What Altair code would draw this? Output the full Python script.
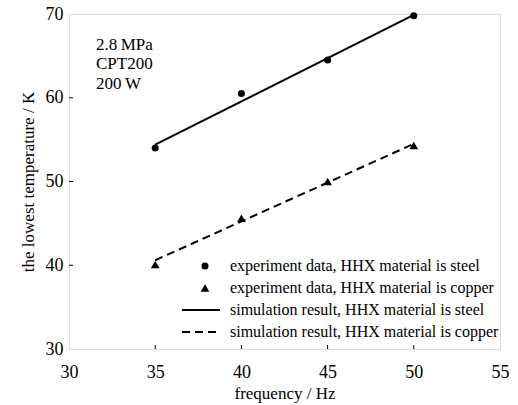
import altair as alt
import pandas as pd

# data
freq = [35, 40, 45, 50]
steel_exp = [54.0, 60.5, 64.5, 69.8]
copper_exp = [40.1, 45.6, 50.0, 54.3]
freq_sim = [35, 50]
steel_sim = [54.4, 69.9]
copper_sim = [40.6, 54.5]
x_ticks = [35, 40, 45, 50]
y_ticks = [40, 50, 60]
legend_labels = [
    "experiment data, HHX material is steel",
    "experiment data, HHX material is copper",
    "simulation result, HHX material is steel",
    "simulation result, HHX material is copper",
]
notes = ["2.8\u2009MPa", "CPT200", "200\u2009W"]

FONT = "Liberation Serif"
W, H = 431, 335

xs = alt.Scale(domain=[30, 55], nice=False, zero=False)
ys = alt.Scale(domain=[30, 70], nice=False, zero=False)

exp_df = pd.DataFrame({"f": freq, "steel": steel_exp, "copper": copper_exp})
sim_df = pd.DataFrame({"f": freq_sim, "steel": steel_sim, "copper": copper_sim})

xax = alt.Axis(values=[30, 35, 40, 45, 50, 55], tickSize=0, labelPadding=14,
               labelFontSize=18, labelFont=FONT, title="frequency / Hz",
               titleFont=FONT, titleFontSize=17, titleFontWeight="normal",
               titlePadding=4, grid=False, domain=False, labelColor="black",
               titleColor="black", labelFlush=False)
yax = alt.Axis(values=[30, 40, 50, 60, 70], tickSize=0, labelPadding=6,
               labelFontSize=18, labelFont=FONT, title="the lowest temperature / K",
               titleFont=FONT, titleFontSize=17, titleFontWeight="normal",
               titlePadding=8, grid=False, domain=False, labelColor="black",
               titleColor="black", labelFlush=False)

base = alt.Chart(exp_df)

steel_line = alt.Chart(sim_df).mark_line(color="black", strokeWidth=2).encode(
    x=alt.X("f:Q", scale=xs, axis=xax),
    y=alt.Y("steel:Q", scale=ys, axis=yax),
)
copper_line = alt.Chart(sim_df).mark_line(color="black", strokeWidth=2, strokeDash=[8, 5]).encode(
    x=alt.X("f:Q", scale=xs),
    y=alt.Y("copper:Q", scale=ys),
)
steel_pts = base.mark_point(shape="circle", filled=True, color="black", size=50, opacity=1).encode(
    x=alt.X("f:Q", scale=xs), y=alt.Y("steel:Q", scale=ys)
)
copper_pts = base.mark_point(shape="triangle-up", filled=True, color="black", size=75, opacity=1).encode(
    x=alt.X("f:Q", scale=xs), y=alt.Y("copper:Q", scale=ys)
)

# inward ticks
xt_df = pd.DataFrame({"v": x_ticks})
xticks = alt.Chart(xt_df).mark_rule(color="black", strokeWidth=1).encode(
    x=alt.X("v:Q", scale=xs), y=alt.value(H - 4), y2=alt.value(H)
)
yt_df = pd.DataFrame({"v": y_ticks})
yticks = alt.Chart(yt_df).mark_rule(color="black", strokeWidth=1).encode(
    y=alt.Y("v:Q", scale=ys), x=alt.value(0), x2=alt.value(4)
)

one = pd.DataFrame({"a": [0]})
layers = [steel_line, copper_line, steel_pts, copper_pts, xticks, yticks]

# annotation
for t, yy in zip(notes, [31, 50, 70]):
    layers.append(alt.Chart(one).mark_text(font=FONT, fontSize=17, align="left", baseline="middle",
                                           color="black", text=t).encode(x=alt.value(27), y=alt.value(yy)))

# legend
lx0 = 113
rows = [252, 274, 296, 318]
for t, yy in zip(legend_labels, rows):
    layers.append(alt.Chart(one).mark_text(font=FONT, fontSize=16, align="left", baseline="middle",
                                           color="black", text=t).encode(x=alt.value(lx0 + 48), y=alt.value(yy)))
layers.append(alt.Chart(one).mark_point(shape="circle", filled=True, color="black", size=50, opacity=1).encode(
    x=alt.value(lx0 + 23), y=alt.value(rows[0])))
layers.append(alt.Chart(one).mark_point(shape="triangle-up", filled=True, color="black", size=75, opacity=1).encode(
    x=alt.value(lx0 + 23), y=alt.value(rows[1])))
layers.append(alt.Chart(one).mark_rule(color="black", strokeWidth=2).encode(
    x=alt.value(lx0), x2=alt.value(lx0 + 38), y=alt.value(rows[2])))
layers.append(alt.Chart(one).mark_rule(color="black", strokeWidth=2, strokeDash=[8, 5]).encode(
    x=alt.value(lx0), x2=alt.value(lx0 + 38), y=alt.value(rows[3])))

chart = alt.layer(*layers).properties(
    width=W, height=H,
    autosize=alt.AutoSizeParams(type="none"),
    padding={"left": 69, "top": 14, "right": 18, "bottom": 56},
).configure_view(stroke="black", strokeWidth=1.2).configure(background="white")

chart.save("out.html", embed_options={"renderer": "svg", "actions": False})
